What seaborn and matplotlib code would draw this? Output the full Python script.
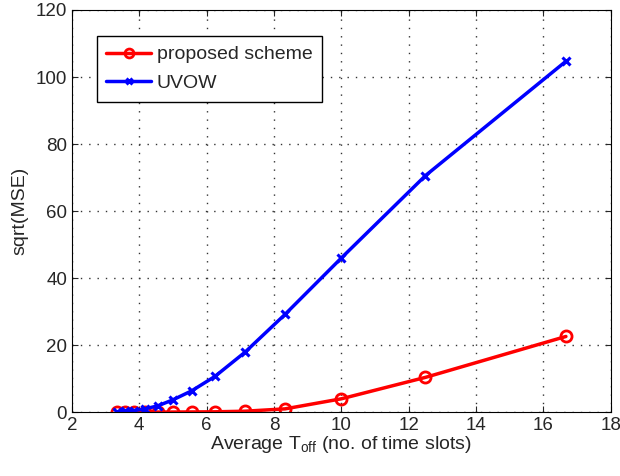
import numpy as np
import pandas as pd
import matplotlib
matplotlib.use("Agg")
import matplotlib.pyplot as plt
import seaborn as sns

# average T_off values (100/k, k = 30..6)
t_off = [3.33, 3.57, 3.85, 4.17, 4.55, 5.0, 5.56, 6.25, 7.14, 8.33, 10.0, 12.5, 16.67]
proposed = [0.05, 0.05, 0.05, 0.05, 0.05, 0.05, 0.08, 0.12, 0.3, 1.0, 4.0, 10.4, 22.6]
uvow = [0.15, 0.3, 0.5, 1.0, 1.9, 3.7, 6.4, 10.7, 17.9, 29.2, 46.0, 70.6, 104.7]

sns.set_style("ticks")
plt.rcParams['font.family'] = ['Liberation Sans', 'DejaVu Sans']
plt.rcParams['mathtext.fontset'] = 'custom'
plt.rcParams['mathtext.rm'] = 'Liberation Sans'

fig = plt.figure(figsize=(6.2, 4.76), dpi=100)
ax = fig.add_axes([0.116, 0.134, 0.869, 0.845])

df = pd.DataFrame({'x': t_off, 'proposed': proposed, 'uvow': uvow})
sns.lineplot(data=df, x='x', y='proposed', ax=ax, color='#ff0000', lw=2.5,
             marker='o', markersize=8, markerfacecolor='none',
             markeredgecolor='#ff0000', markeredgewidth=2,
             label='proposed scheme', sort=False)
sns.lineplot(data=df, x='x', y='uvow', ax=ax, color='#0000ff', lw=2.5,
             marker='x', markersize=6, markeredgewidth=2.2,
             markeredgecolor='#0000ff',
             label='UVOW', sort=False)

ax.set_xlim(2, 18)
ax.set_ylim(0, 120)
ax.set_xticks(range(2, 19, 2))
ax.set_yticks(range(0, 121, 20))
ax.grid(True, linestyle=(0, (1, 5)), color='#333333', linewidth=1.0)
ax.tick_params(direction='in', top=True, right=True, labelsize=13.5, length=4)
for s in ax.spines.values():
    s.set_linewidth(0.8)
    s.set_color('black')

ax.set_xlabel(r'Average T$_\mathregular{off}$ (no. of time slots)', fontsize=14, labelpad=0)
ax.set_ylabel('sqrt(MSE)', fontsize=14, labelpad=5)

leg = ax.legend(loc='upper left', bbox_to_anchor=(0.046, 0.935), fontsize=14,
                fancybox=False, framealpha=1, edgecolor='black',
                handlelength=2.3, handletextpad=0.3, borderpad=0.5,
                labelspacing=0.55, markerscale=0.8, borderaxespad=0)
leg.get_frame().set_linewidth(1.0)

fig.savefig('out.png', dpi=100)
